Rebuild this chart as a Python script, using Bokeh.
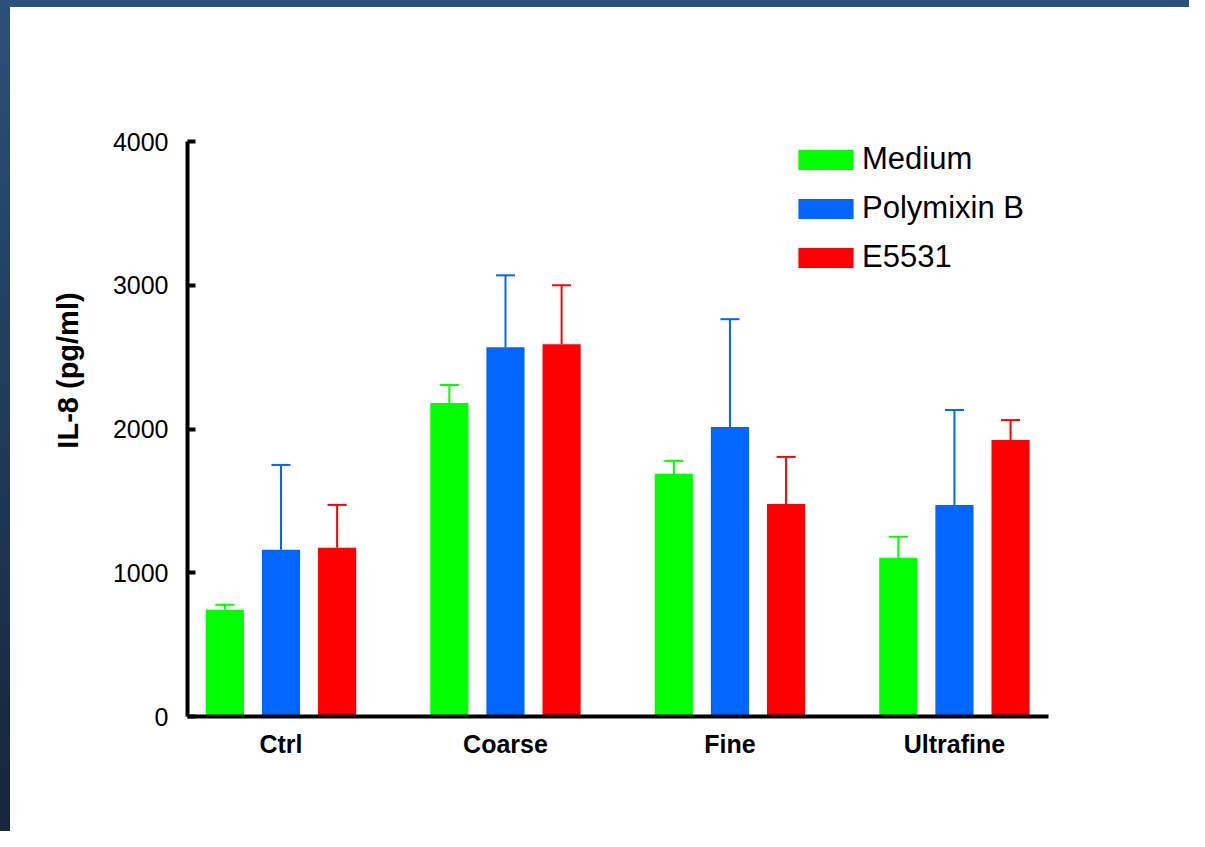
from bokeh.plotting import figure
from bokeh.models import Range1d, FixedTicker, Legend, LegendItem
from bokeh.embed import file_html
from bokeh.resources import INLINE

categories = ["Ctrl", "Coarse", "Fine", "Ultrafine"]
series_names = ["Medium", "Polymixin B", "E5531"]
medium = [743, 2181, 1688, 1104]
medium_err = [35, 125, 90, 146]
polymixin = [1160, 2569, 2014, 1472]
polymixin_err = [590, 500, 750, 660]
e5531 = [1174, 2590, 1479, 1924]
e5531_err = [298, 410, 327, 138]
y_ticks = [0, 1000, 2000, 3000, 4000]

colors = ["#00FF00", "#0066FF", "#FF0000"]
offsets = [-0.25, 0.0, 0.25]
bar_w = 0.17
cap_w = 0.085

p = figure(width=1189, height=831, output_backend="svg", toolbar_location=None,
           x_range=Range1d(0.5835, 4.419), y_range=Range1d(0, 4814),
           min_border_left=187, min_border_right=141, min_border_top=24, min_border_bottom=115)
p.outline_line_color = None
p.xgrid.visible = False
p.ygrid.visible = False
p.border_fill_alpha = 0
p.background_fill_color = "white"
p.styles = {
    "background": ("linear-gradient(#2B5079, #2B5079) left top / 100% 7px no-repeat, "
                   "linear-gradient(to bottom, #2B5079, #16253A) left top / 10px 100% no-repeat, "
                   "white"),
}

items = []
for vals, errs, name, col, off in zip([medium, polymixin, e5531],
                                      [medium_err, polymixin_err, e5531_err],
                                      series_names, colors, offsets):
    xs = [i + 1 + off for i in range(len(categories))]
    tops = [v + e for v, e in zip(vals, errs)]
    r = p.vbar(x=xs, top=vals, width=bar_w, bottom=0, fill_color=col, line_color=None)
    p.segment(x0=xs, y0=vals, x1=xs, y1=tops, line_color=col, line_width=2)
    p.segment(x0=[x - cap_w / 2 for x in xs], y0=tops, x1=[x + cap_w / 2 for x in xs], y1=tops,
              line_color=col, line_width=2)
    items.append(LegendItem(label=name, renderers=[r]))

legend = Legend(items=items, location=(604, 441), glyph_width=69, glyph_height=25,
                label_text_font="Liberation Sans", label_text_font_size="31px",
                label_text_color="black",
                spacing=13, padding=0, margin=0, label_standoff=2,
                border_line_alpha=0, background_fill_alpha=0)
p.add_layout(legend)

# y axis
p.yaxis.ticker = FixedTicker(ticks=y_ticks)
p.yaxis.bounds = (0, 4000)
p.yaxis.axis_line_width = 4
p.yaxis.major_tick_line_width = 4
p.yaxis.major_tick_in = 8
p.yaxis.major_tick_out = 0
p.yaxis.minor_tick_line_color = None
p.yaxis.major_label_text_font = "Liberation Sans"
p.yaxis.major_label_text_font_size = "25px"
p.yaxis.major_label_text_color = "black"
p.yaxis.major_label_standoff = 19
p.yaxis.axis_label = "IL-8 (pg/ml)"
p.yaxis.axis_label_text_font = "Liberation Sans"
p.yaxis.axis_label_text_font_style = "bold"
p.yaxis.axis_label_text_font_size = "29px"
p.yaxis.axis_label_text_color = "black"
p.yaxis.axis_label_standoff = 26

# x axis
p.xaxis.ticker = FixedTicker(ticks=[1, 2, 3, 4])
p.xaxis.major_label_overrides = {i + 1: c for i, c in enumerate(categories)}
p.xaxis.axis_line_width = 4
p.xaxis.major_tick_line_color = None
p.xaxis.minor_tick_line_color = None
p.xaxis.major_label_text_font = "Liberation Sans"
p.xaxis.major_label_text_font_style = "bold"
p.xaxis.major_label_text_font_size = "25px"
p.xaxis.major_label_text_color = "black"
p.xaxis.major_label_standoff = 7

open("out.html", "w").write(file_html(p, INLINE))
